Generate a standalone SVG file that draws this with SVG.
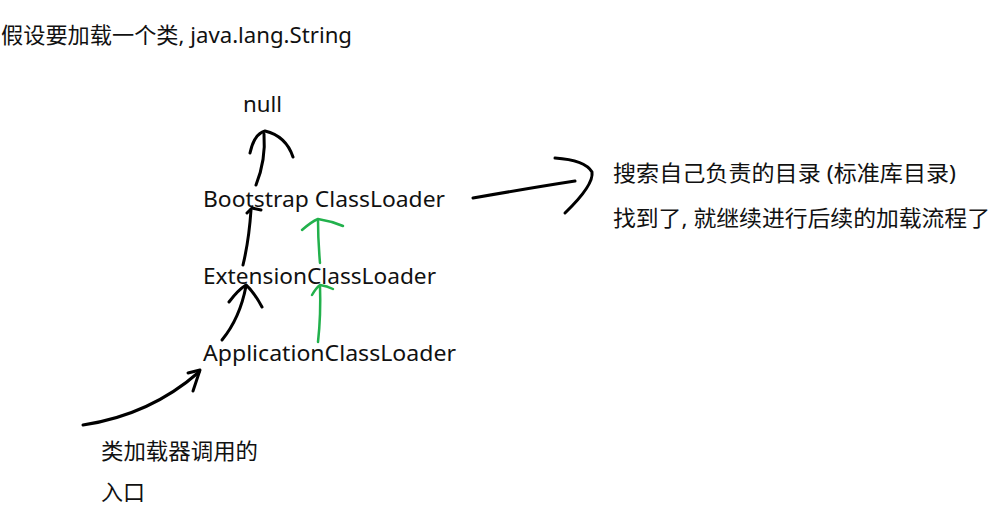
<svg xmlns="http://www.w3.org/2000/svg" width="997" height="519" viewBox="0 0 997 519">
<style>
text{font-family:"Noto Sans","Noto Sans CJK SC",sans-serif;font-size:22px;fill:#111}
.k{fill:none;stroke:#000;stroke-width:3;stroke-linecap:round;stroke-linejoin:round}
.g{fill:none;stroke:#22b14c;stroke-width:2.5;stroke-linecap:round;stroke-linejoin:round}
</style>
<rect width="997" height="519" fill="#fff"/>
<g id="title"><text x="1" y="43" textLength="351" lengthAdjust="spacingAndGlyphs">假设要加载一个类, java.lang.String</text></g>
<g id="null"><text x="243" y="112" textLength="39" lengthAdjust="spacingAndGlyphs">null</text></g>
<g id="bootstrap"><text x="203" y="207" textLength="242" lengthAdjust="spacingAndGlyphs">Bootstrap ClassLoader</text></g>
<g id="extension"><text x="203" y="284" textLength="233" lengthAdjust="spacingAndGlyphs">ExtensionClassLoader</text></g>
<g id="application"><text x="203" y="361" textLength="253" lengthAdjust="spacingAndGlyphs">ApplicationClassLoader</text></g>
<g id="search-note">
<text x="613" y="181" textLength="343" lengthAdjust="spacingAndGlyphs">搜索自己负责的目录 (标准库目录)</text>
<text x="613" y="226" textLength="377" lengthAdjust="spacingAndGlyphs">找到了, 就继续进行后续的加载流程了</text>
</g>
<g id="entry-note">
<text x="101" y="459" textLength="157" lengthAdjust="spacingAndGlyphs">类加载器调用的</text>
<text x="101" y="500" textLength="44" lengthAdjust="spacingAndGlyphs">入口</text>
</g>
<g id="connectors">
<path class="k" d="M256,185 Q266,160 264,134"/>
<path class="k" d="M250,153 Q254,134 265,131 Q286,136 293,157"/>
<path class="k" d="M243,265 Q249,240 251,210"/>
<path class="k" d="M247,213 L252,208 L261,210"/>
<path class="k" d="M222,340 Q240,318 246,286"/>
<path class="k" d="M229,302 Q238,290 246,285 Q254,292 262,307"/>
<path class="g" d="M320,263 Q318,240 318,220"/>
<path class="g" d="M302,230 Q311,222 318,219 Q331,221 343,226"/>
<path class="g" d="M318,342 Q321,315 320,286"/>
<path class="g" d="M312,295 Q316,288 320,285 Q327,286 333,289"/>
<path class="k" d="M473,198 Q530,188 575,181"/>
<path class="k" d="M555,158 Q585,160 592,172 Q594,185 565,213"/>
<path class="k" d="M83,425 Q150,415 199,372"/>
<path class="k" d="M188,373 L200,370 L193,391"/>
</g>
</svg>
